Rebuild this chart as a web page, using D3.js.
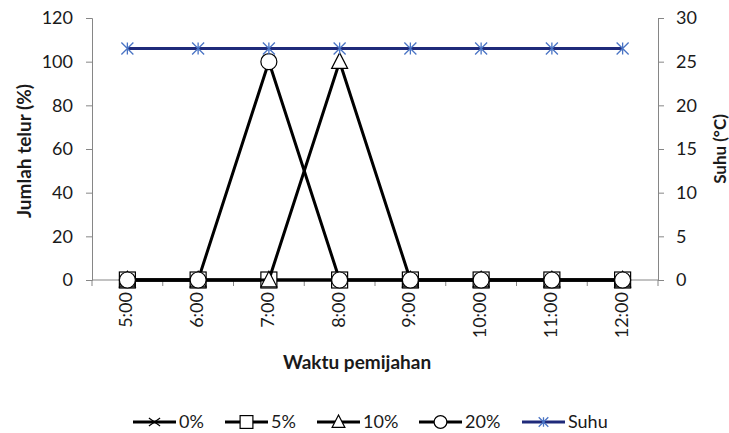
<!DOCTYPE html>
<html>
<head>
<meta charset="utf-8">
<script src="https://cdn.jsdelivr.net/npm/d3@7"></script>
<style>
  body { margin: 0; background: #fff; }
  svg { display: block; font-family: Lato, "Open Sans", sans-serif; }
</style>
</head>
<body>
<svg id="chart" width="729" height="433"></svg>
<script>
// Spawning time categories
const categories = ["5:00", "6:00", "7:00", "8:00", "9:00", "10:00", "11:00", "12:00"];
// Egg count (%) per treatment
const s0 = [0, 0, 0, 0, 0, 0, 0, 0];
const s5 = [0, 0, 0, 0, 0, 0, 0, 0];
const s10 = [0, 0, 0, 100, 0, 0, 0, 0];
const s20 = [0, 0, 100, 0, 0, 0, 0, 0];
// Water temperature (°C)
const suhu = [26.5, 26.5, 26.5, 26.5, 26.5, 26.5, 26.5, 26.5];
const leftTicks = [0, 20, 40, 60, 80, 100, 120];
const rightTicks = [0, 5, 10, 15, 20, 25, 30];
const seriesNames = ["0%", "5%", "10%", "20%", "Suhu"];

const svg = d3.select("#chart");
const plotLeft = 92, plotRight = 658, plotTop = 18, plotBottom = 280;
const axisColor = "#868686";
const textColor = "#1a1a1a";

const x = d3.scaleBand().domain(categories).range([plotLeft, plotRight]);
const yL = d3.scaleLinear().domain([0, 120]).range([plotBottom, plotTop]);
const yR = d3.scaleLinear().domain([0, 30]).range([plotBottom, plotTop]);
const cx = c => x(c) + x.bandwidth() / 2;

// Axes
const gL = svg.append("g").attr("transform", `translate(${plotLeft},0)`)
  .call(d3.axisLeft(yL).tickValues(leftTicks).tickSize(6).tickPadding(13));
const gR = svg.append("g").attr("transform", `translate(${plotRight},0)`)
  .call(d3.axisRight(yR).tickValues(rightTicks).tickSize(6).tickPadding(12));
[gL, gR].forEach(g => {
  g.select(".domain").attr("stroke", axisColor);
  g.selectAll(".tick line").attr("stroke", axisColor);
  g.selectAll(".tick text").attr("fill", textColor).style("font-size", "18px").style("font-family", "Lato, sans-serif");
});

// X axis line with ticks at category boundaries
const gX = svg.append("g");
gX.append("line").attr("x1", plotLeft).attr("x2", plotRight).attr("y1", plotBottom).attr("y2", plotBottom).attr("stroke", axisColor);
const bounds = categories.map(c => x(c)).concat([x(categories[categories.length - 1]) + x.bandwidth()]);
gX.selectAll("line.tk").data(bounds).join("line").attr("class", "tk")
  .attr("x1", d => d).attr("x2", d => d).attr("y1", plotBottom).attr("y2", plotBottom + 6).attr("stroke", axisColor);
gX.selectAll("text").data(categories).join("text")
  .attr("transform", d => `translate(${cx(d) + 5},${plotBottom + 12}) rotate(-90)`)
  .attr("text-anchor", "end").style("font-size", "18px").attr("fill", textColor)
  .text(d => d);

// Axis titles
svg.append("text").attr("x", 357).attr("y", 369).attr("text-anchor", "middle")
  .style("font-size", "19px").style("font-weight", "bold").attr("fill", textColor).text("Waktu pemijahan");
svg.append("text").attr("transform", `translate(31,151) rotate(-90)`).attr("text-anchor", "middle")
  .style("font-size", "19px").style("font-weight", "bold").attr("fill", textColor).text("Jumlah telur (%)");
svg.append("text").attr("transform", `translate(726,149) rotate(-90)`).attr("text-anchor", "middle")
  .style("font-size", "17px").style("font-weight", "bold").attr("fill", textColor).text("Suhu (°C)");

// Marker drawing helpers
function marker(g, type, px, py, scale = 1) {
  if (type === "x") {
    const rx = 7 * scale, ry = 5 * scale;
    g.append("path").attr("d", `M${px - rx},${py - ry}L${px + rx},${py + ry}M${px - rx},${py + ry}L${px + rx},${py - ry}`)
      .attr("stroke", "#000").attr("stroke-width", 1.2).attr("fill", "none");
  } else if (type === "square") {
    const r = 8 * scale;
    g.append("rect").attr("x", px - r).attr("y", py - r).attr("width", 2 * r).attr("height", 2 * r)
      .attr("fill", "#fff").attr("stroke", "#000").attr("stroke-width", 1.2);
  } else if (type === "triangle") {
    const r = 8 * scale;
    g.append("path").attr("d", `M${px},${py - r * 1.1}L${px + r},${py + r * 0.85}L${px - r},${py + r * 0.85}Z`)
      .attr("fill", "#fff").attr("stroke", "#000").attr("stroke-width", 1.2);
  } else if (type === "circle") {
    g.append("circle").attr("cx", px).attr("cy", py).attr("r", 8 * scale)
      .attr("fill", "#fff").attr("stroke", "#000").attr("stroke-width", 1.2);
  } else if (type === "star") {
    const r = 6 * scale;
    g.append("path").attr("d", `M${px - r},${py - r}L${px + r},${py + r}M${px - r},${py + r}L${px + r},${py - r}M${px},${py - r}L${px},${py + r}`)
      .attr("stroke", "#4a74c4").attr("stroke-width", 1.3).attr("fill", "none");
  }
}

const series = [
  { name: seriesNames[0], values: s0, type: "x", color: "#000", y: yL },
  { name: seriesNames[1], values: s5, type: "square", color: "#000", y: yL },
  { name: seriesNames[2], values: s10, type: "triangle", color: "#000", y: yL },
  { name: seriesNames[3], values: s20, type: "circle", color: "#000", y: yL },
  { name: seriesNames[4], values: suhu, type: "star", color: "#1f2a7a", y: yR }
];

series.forEach(s => {
  const g = svg.append("g");
  const line = d3.line().x((d, i) => cx(categories[i])).y(d => s.y(d));
  g.append("path").datum(s.values).attr("d", line).attr("fill", "none")
    .attr("stroke", s.color).attr("stroke-width", 3).attr("stroke-linejoin", "round");
  s.values.forEach((v, i) => marker(g, s.type, cx(categories[i]), s.y(v)));
});

// Legend
const legendY = 422;
const legendItems = [
  { s: series[0], x0: 133 },
  { s: series[1], x0: 225 },
  { s: series[2], x0: 317 },
  { s: series[3], x0: 419 },
  { s: series[4], x0: 522 }
];
legendItems.forEach(({ s, x0 }) => {
  const g = svg.append("g");
  g.append("line").attr("x1", x0).attr("x2", x0 + 43).attr("y1", legendY).attr("y2", legendY)
    .attr("stroke", s.color).attr("stroke-width", 3);
  marker(g, s.type, x0 + 21.5, legendY, 0.8);
  g.append("text").attr("x", x0 + 46).attr("y", legendY + 6).style("font-size", "18px")
    .attr("fill", textColor).text(s.name);
});
</script>
</body>
</html>
